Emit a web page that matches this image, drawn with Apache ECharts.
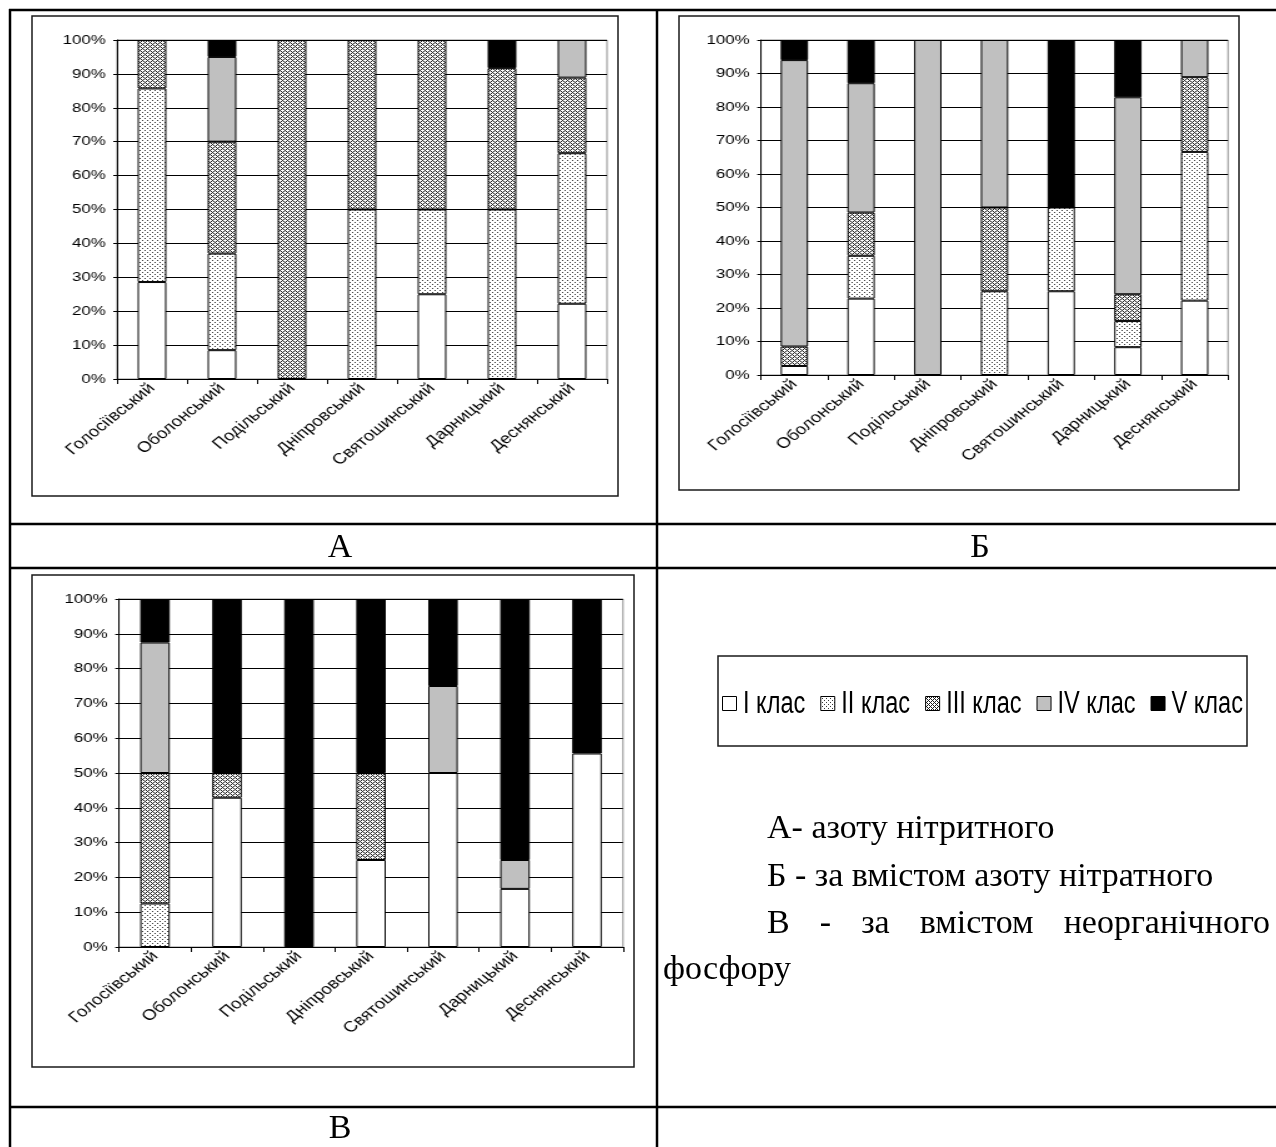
<!DOCTYPE html>
<html>
<head>
<meta charset="utf-8">
<script src="https://cdn.jsdelivr.net/npm/echarts@6/dist/echarts.min.js"></script>
<style>
  html, body { margin: 0; padding: 0; background: #fff; }
  #page { position: relative; width: 1276px; height: 1147px; }
  #frame { position: absolute; left: 0; top: 0; width: 1276px; height: 1147px; }
  .chart { position: absolute; transform-origin: 0 0; }
</style>
</head>
<body>
<div id="page">
  <div id="frame"></div>
  <div id="chartA" class="chart"></div>
  <div id="chartB" class="chart"></div>
  <div id="chartC" class="chart"></div>
</div>
<script>
// Districts of Kyiv (category axis of all three charts)
const districts = ['Голосіївський', 'Оболонський', 'Подільський', 'Дніпровський',
                   'Святошинський', 'Дарницький', 'Деснянський'];
// Water quality classes (stack order, bottom to top)
const classNames = ['I клас', 'II клас', 'III клас', 'IV клас', 'V клас'];
// Percent axis ticks
const percentTicks = [0, 10, 20, 30, 40, 50, 60, 70, 80, 90, 100];

// А – nitrite nitrogen, share of samples per class, %
const nitriteI   = [28.6, 8.5, 0, 0, 25, 0, 22.2];
const nitriteII  = [57.1, 28.5, 0, 50, 25, 50, 44.4];
const nitriteIII = [14.3, 33, 100, 50, 50, 41.7, 22.3];
const nitriteIV  = [0, 25, 0, 0, 0, 0, 11.1];
const nitriteV   = [0, 5, 0, 0, 0, 8.3, 0];

// Б – nitrate nitrogen, %
const nitrateI   = [2.7, 22.8, 0, 0, 25, 8.3, 22.2];
const nitrateII  = [0, 12.8, 0, 25, 25, 7.8, 44.4];
const nitrateIII = [5.8, 12.9, 0, 25, 0, 8.0, 22.3];
const nitrateIV  = [85.5, 38.6, 100, 50, 0, 58.8, 11.1];
const nitrateV   = [6, 12.9, 0, 0, 50, 17.1, 0];

// В – inorganic phosphorus, %
const phosI   = [0, 42.9, 0, 25, 50, 16.7, 55.6];
const phosII  = [12.5, 0, 0, 0, 0, 0, 0];
const phosIII = [37.5, 7.1, 0, 25, 0, 0, 0];
const phosIV  = [37.5, 0, 0, 0, 25, 8.3, 0];
const phosV   = [12.5, 50, 100, 50, 25, 75, 44.4];

// The embedded charts are widened horizontally on the page
const STRETCH = 1.25;

// ---- fill patterns for the classes ----
function tile(size, paint) {
  const c = document.createElement('canvas');
  c.width = size; c.height = size;
  const g = c.getContext('2d');
  g.fillStyle = '#fff';
  g.fillRect(0, 0, size, size);
  paint(g);
  return c;
}
const dotTile = tile(4, g => {
  g.fillStyle = '#3a3a3a';
  g.fillRect(0, 0, 1, 1);
  g.fillRect(2, 2, 1, 1);
});
const hatchTile = tile(4, g => {
  g.fillStyle = '#1e1e1e';
  for (let x = 0; x < 4; x++) for (let y = 0; y < 4; y++) {
    if ((x + y) % 4 === 0 || (x - y + 4) % 4 === 0) g.fillRect(x, y, 1, 1);
  }
});
const classFills = [
  '#ffffff',
  { image: dotTile, repeat: 'repeat' },
  { image: hatchTile, repeat: 'repeat' },
  '#c0c0c0',
  '#000000'
];

const axisFont = '"Liberation Sans", Arial, sans-serif';

// box: outer chart frame on the page; plot: plot area on the page
function drawChart(id, classValues, box, plot) {
  const el = document.getElementById(id);
  el.style.left = box.x + 'px';
  el.style.top = box.y + 'px';
  el.style.width = (box.w / STRETCH) + 'px';
  el.style.height = box.h + 'px';
  el.style.transform = 'scaleX(' + STRETCH + ')';

  const chart = echarts.init(el, null, { renderer: 'canvas' });
  chart.setOption({
    animation: false,
    backgroundColor: 'transparent',
    grid: {
      left: (plot.x - box.x) / STRETCH,
      top: plot.y - box.y,
      width: plot.w / STRETCH,
      height: plot.h,
      show: true, borderColor: '#8c8c8c', borderWidth: 1
    },
    xAxis: {
      type: 'category',
      data: districts,
      boundaryGap: true,
      axisLine: { show: true, lineStyle: { color: '#000', width: 1 } },
      axisTick: { show: true, alignWithLabel: false, length: 5, lineStyle: { color: '#000' } },
      axisLabel: { interval: 0, rotate: 45, margin: 7, fontSize: 15, color: '#000', fontFamily: axisFont },
      splitLine: { show: false }
    },
    yAxis: {
      type: 'value',
      min: percentTicks[0],
      max: percentTicks[percentTicks.length - 1],
      interval: 10,
      axisLine: { show: true, lineStyle: { color: '#000', width: 1 } },
      axisTick: { show: true, length: 3, lineStyle: { color: '#000' } },
      axisLabel: { formatter: '{value}%', margin: 9, fontSize: 13.5, color: '#000', fontFamily: axisFont },
      splitLine: { show: true, lineStyle: { color: '#000', width: 1 } }
    },
    series: classValues.map((values, ci) => ({
      type: 'bar',
      name: classNames[ci],
      stack: 'total',
      barWidth: '41%',
      data: values.map(v => (v === 0 ? '-' : v)),
      itemStyle: { color: classFills[ci], borderColor: '#000', borderWidth: 1 },
      emphasis: { disabled: true }
    }))
  });
}

const boxA = { x: 32, y: 16, w: 586, h: 480 };
const boxB = { x: 679, y: 16, w: 560, h: 474 };
const boxC = { x: 32, y: 575, w: 602, h: 492 };

drawChart('chartA', [nitriteI, nitriteII, nitriteIII, nitriteIV, nitriteV],
          boxA, { x: 117, y: 40, w: 490, h: 339 });
drawChart('chartB', [nitrateI, nitrateII, nitrateIII, nitrateIV, nitrateV],
          boxB, { x: 761, y: 40, w: 467, h: 335 });
drawChart('chartC', [phosI, phosII, phosIII, phosIV, phosV],
          boxC, { x: 119, y: 599, w: 504, h: 348 });

// ---- table frame, captions, legend and notes ----
const rule = (x1, y1, x2, y2) => ({
  type: 'line', silent: true,
  shape: { x1, y1, x2, y2 },
  style: { stroke: '#000', lineWidth: 2.5 }
});
const frameRect = (b, stroke, lw) => ({
  type: 'rect', silent: true,
  shape: { x: b.x, y: b.y, width: b.w, height: b.h },
  style: { fill: 'none', stroke, lineWidth: lw }
});
const serif = '34px "Liberation Serif", "Times New Roman", serif';
const label = (text, x, y, align) => ({
  type: 'text', silent: true, x, y,
  style: { text, font: serif, fill: '#000', textAlign: align || 'left', textVerticalAlign: 'middle' }
});
const measure = (() => {
  const ctx = document.createElement('canvas').getContext('2d');
  return (text, font) => { ctx.font = font; return ctx.measureText(text).width; };
})();

// justified line: words spread from left to right edge
function justified(words, xLeft, xRight, y) {
  const widths = words.map(w => measure(w, serif));
  const total = widths.reduce((a, b) => a + b, 0);
  const gap = (xRight - xLeft - total) / (words.length - 1);
  let x = xLeft;
  return words.map((w, i) => {
    const el = label(w, x, y);
    x += widths[i] + gap;
    return el;
  });
}

// legend row: pattern swatch + condensed caption for every class
function legendRow(xLeft, xRight, yMid) {
  const font = '31px "Liberation Sans", Arial, sans-serif';
  const icon = 14, iconGap = 7, itemGap = 15;
  const widths = classNames.map(n => measure(n, font));
  const free = (xRight - xLeft) - classNames.length * (icon + iconGap) - (classNames.length - 1) * itemGap;
  const sx = free / widths.reduce((a, b) => a + b, 0);
  const out = [];
  let x = xLeft;
  classNames.forEach((name, i) => {
    out.push({
      type: 'rect', silent: true,
      shape: { x: x + 0.5, y: Math.round(yMid - icon / 2) + 0.5, width: icon, height: icon },
      style: { fill: classFills[i], stroke: '#000', lineWidth: 1 }
    });
    x += icon + iconGap;
    out.push({
      type: 'text', silent: true, x, y: yMid + 1, scaleX: sx,
      style: { text: name, font, fill: '#000', textAlign: 'left', textVerticalAlign: 'middle' }
    });
    x += widths[i] * sx + itemGap;
  });
  return out;
}

const frame = echarts.init(document.getElementById('frame'), null, { renderer: 'canvas' });
frame.setOption({
  animation: false,
  backgroundColor: '#fff',
  graphic: [
    rule(9, 10, 1276, 10),
    rule(10, 9, 10, 1147),
    rule(657, 9, 657, 1147),
    rule(9, 524, 1276, 524),
    rule(9, 568, 1276, 568),
    rule(9, 1107, 1276, 1107),
    frameRect(boxA, '#1a1a1a', 1.5),
    frameRect(boxB, '#1a1a1a', 1.5),
    frameRect(boxC, '#1a1a1a', 1.5),
    frameRect({ x: 718, y: 656, w: 529, h: 90 }, '#1a1a1a', 1.5),
    ...legendRow(722, 1243, 703),
    label('А', 340, 548, 'center'),
    label('Б', 980, 548, 'center'),
    label('В', 340, 1129, 'center'),
    label('А- азоту нітритного', 767, 829),
    label('Б - за вмістом азоту нітратного', 767, 877),
    ...justified(['В', '-', 'за', 'вмістом', 'неорганічного'], 767, 1270, 924),
    label('фосфору', 663, 970)
  ]
});
</script>
</body>
</html>
